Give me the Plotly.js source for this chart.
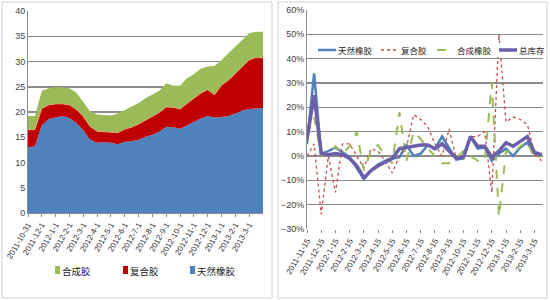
<!DOCTYPE html>
<html>
<head>
<meta charset="utf-8">
<script src="https://cdn.plot.ly/plotly-3.0.1.min.js"></script>
<style>html,body{margin:0;padding:0;background:#fff;overflow:hidden;}#chart{width:550px;height:300px;}</style>
</head>
<body>
<div id="chart"></div>
<script>
// ---- Left chart: stock levels (stacked area) ----
const stockDates = ["2011-10-31","2011-11-15","2011-12-1","2011-12-15","2012-1-1","2012-1-15","2012-2-1","2012-2-15","2012-3-1","2012-3-15","2012-4-1","2012-4-15","2012-5-1","2012-5-15","2012-6-1","2012-6-15","2012-7-1","2012-7-15","2012-8-1","2012-8-15","2012-9-1","2012-9-15","2012-10-1","2012-10-15","2012-11-1","2012-11-15","2012-12-1","2012-12-15","2013-1-1","2013-1-15","2013-2-1","2013-2-15","2013-3-1","2013-3-15","2013-4-1"];
const stockTickLabels = ["2011-10-31","2011-12-1","2012-1-1","2012-2-1","2012-3-1","2012-4-1","2012-5-1","2012-6-1","2012-7-1","2012-8-1","2012-9-1","2012-10-1","2012-11-1","2012-12-1","2013-1-1","2013-2-1","2013-3-1"];
const naturalStock   = [13.0,13.2,17.4,18.6,18.9,19.2,18.8,17.8,16.4,14.5,13.9,14.0,13.9,13.6,14.1,14.2,14.5,15.1,15.5,16.1,17.1,17.0,16.7,17.4,18.1,18.7,19.2,18.9,19.0,19.2,19.7,20.3,20.6,20.7,20.8];
const compoundStock  = [3.5,3.3,3.3,2.8,2.7,2.4,2.6,2.7,2.7,2.6,2.3,2.1,2.0,2.3,2.5,2.8,3.1,3.3,3.6,3.8,3.9,3.9,3.9,4.3,4.6,5.0,5.2,4.5,6.3,7.1,8.0,8.7,9.7,10.1,9.9];
const syntheticStock = [2.7,2.7,3.5,3.3,3.3,3.3,3.3,3.3,2.9,3.0,3.3,3.3,3.4,3.8,3.8,4.1,4.2,4.3,4.3,4.3,4.7,4.3,4.6,5.0,4.8,4.9,4.6,5.7,5.0,5.3,5.3,5.3,5.3,5.1,5.2];
const stockSeriesNames = ['天然橡胶', '复合胶', '合成胶'];

// ---- Right chart: period changes (%) ----
const changeDates = ["2011-11-15","2011-12-1","2011-12-15","2012-1-1","2012-1-15","2012-2-1","2012-2-15","2012-3-1","2012-3-15","2012-4-1","2012-4-15","2012-5-1","2012-5-15","2012-6-1","2012-6-15","2012-7-1","2012-7-15","2012-8-1","2012-8-15","2012-9-1","2012-9-15","2012-10-1","2012-10-15","2012-11-1","2012-11-15","2012-12-1","2012-12-15","2013-1-1","2013-1-15","2013-2-1","2013-2-15","2013-3-1","2013-3-15","2013-4-1"];
const changeTickLabels = ["2011-11-15","2011-12-15","2012-1-15","2012-2-15","2012-3-15","2012-4-15","2012-5-15","2012-6-15","2012-7-15","2012-8-15","2012-9-15","2012-10-15","2012-11-15","2012-12-15","2013-1-15","2013-2-15","2013-3-15"];
const naturalChg   = [5,34,1,2,3.5,1.5,-0.5,-5,-9.5,-6,-3.5,-2,-1,-0.5,4.5,0,1,4.5,3,8,3,-1.5,-1,8,3,3.5,-2,1,3,0,3.5,5.5,1,0.5];
const compoundChg  = [0,5,-24,0,-15,5,5,0,-5,3,2,-2,-7,0,3.5,17,15,12,5,0,11,-1,0,8,8,10,-15,50,14,16,15,13,1,-2];
const syntheticChg = [9,16,0,1,4,1,4,10,-6,2,4.5,0,-3,18,-2,10,7,3,0,-3,-3,-1,2,0,-2,-2,30,-25,2,1,4,6,-1,0];
const totalChg     = [7,25,1,0.5,1,0.5,-1,-4,-9,-6,-4,-2.5,-1,3,3.5,4,4.5,4.5,3,5,2,-1,-0.5,8,4,4,-0.5,2,5.5,4,6,8,1.5,0.5];
const changeSeriesNames = ['天然橡胶', '复合胶', '合成橡胶', '总库存'];

const W = 550, H = 300;
const px = v => v / W, py = v => (H - v) / H;
const gridCol = '#8c8c8c';
const tickFont = {family: 'Liberation Sans, Arial, sans-serif', size: 9, color: '#404040'};
const xFont = {family: 'Liberation Sans, Arial, sans-serif', size: 8, color: '#333333'};
const cjk = 'Noto Sans CJK SC, sans-serif';
const areaColors = ['#4f81bd', '#c00000', '#9bbb59'];
const lineStyles = [
  {width: 2.5, color: '#4f81bd'},
  {width: 1.3, color: '#c0504d', dash: 'dot'},
  {width: 2, color: '#9bbb59', dash: 'dash'},
  {width: 3.5, color: '#6a5fa8'}
];

const stockSeries = [naturalStock, compoundStock, syntheticStock];
const changeSeries = [naturalChg, compoundChg, syntheticChg, totalChg];

const traces = [];
stockSeries.forEach((ys, i) => traces.push({
  x: stockDates, y: ys, name: stockSeriesNames[i], type: 'scatter', mode: 'lines', stackgroup: 'one',
  line: {width: i === 1 ? 0.8 : 0, color: i === 1 ? '#e8a070' : areaColors[i]},
  fillcolor: areaColors[i], xaxis: 'x', yaxis: 'y', showlegend: false
}));
changeSeries.forEach((ys, i) => traces.push({
  x: changeDates, y: ys, name: changeSeriesNames[i], type: 'scatter', mode: 'lines',
  line: lineStyles[i], xaxis: 'x2', yaxis: 'y2', showlegend: false
}));

// manual legends (symbols as shapes, labels as text)
const shapes = [
  {type: 'rect', xref: 'paper', yref: 'paper', x0: px(2), x1: px(272), y0: py(298), y1: py(2), line: {color: '#d0d0d0', width: 1}},
  {type: 'rect', xref: 'paper', yref: 'paper', x0: px(278), x1: px(547), y0: py(298), y1: py(2), line: {color: '#d0d0d0', width: 1}},
  {type: 'rect', xref: 'paper', yref: 'paper', x0: px(313), x1: px(542), y0: py(57), y1: py(43), fillcolor: '#ffffff', line: {width: 0}, layer: 'above'}
];
const annotations = [];
// left legend: reversed order (合成胶, 复合胶, 天然橡胶)
const leftLegendX = [55, 123, 190];
[2, 1, 0].forEach((si, k) => {
  const x0 = leftLegendX[k];
  shapes.push({type: 'rect', xref: 'paper', yref: 'paper', x0: px(x0), x1: px(x0 + 5), y0: py(274), y1: py(266), fillcolor: areaColors[si], line: {width: 0}});
  annotations.push({xref: 'paper', yref: 'paper', x: px(x0 + 5), y: py(270.5), xanchor: 'left', yanchor: 'middle', showarrow: false,
    text: stockSeriesNames[si], font: {family: cjk, size: 9.5, color: '#222'}});
});
// right legend
const rightLegendX = [318, 381, 437, 499];
changeSeries.forEach((ys, i) => {
  const x0 = rightLegendX[i];
  shapes.push({type: 'line', xref: 'paper', yref: 'paper', x0: px(x0), x1: px(x0 + 18), y0: py(50), y1: py(50),
    line: {color: lineStyles[i].color, width: lineStyles[i].width, dash: lineStyles[i].dash || 'solid'}, layer: 'above'});
  annotations.push({xref: 'paper', yref: 'paper', x: px(x0 + 18), y: py(50), xanchor: 'left', yanchor: 'middle', showarrow: false,
    text: changeSeriesNames[i], font: {family: cjk, size: 8.5, color: '#222'}});
});

const layout = {
  width: W, height: H,
  margin: {l: 0, r: 0, t: 0, b: 0, pad: 0},
  paper_bgcolor: '#ffffff', plot_bgcolor: '#ffffff',
  showlegend: false,
  xaxis: {
    domain: [px(28), px(263)], anchor: 'y', type: 'category', automargin: false,
    range: [0, stockDates.length - 1],
    tickmode: 'array', tickvals: stockTickLabels, ticktext: stockTickLabels,
    tickangle: -60, tickfont: xFont, ticks: 'outside', ticklen: 3, tickcolor: gridCol,
    showgrid: false, showline: true, linecolor: gridCol, linewidth: 1, zeroline: false
  },
  yaxis: {
    domain: [py(213), py(11)], anchor: 'x', automargin: false,
    range: [0, 40], dtick: 5, tickfont: tickFont,
    showgrid: true, gridcolor: gridCol, gridwidth: 1.5,
    showline: true, linecolor: gridCol, linewidth: 1, zeroline: false, ticks: ''
  },
  xaxis2: {
    domain: [px(307), px(543)], anchor: 'y2', type: 'category', automargin: false,
    range: [0, changeDates.length - 0.8],
    tickmode: 'array', tickvals: changeTickLabels, ticktext: changeTickLabels,
    tickangle: -60, tickfont: xFont, ticks: 'outside', ticklen: 3, tickcolor: gridCol,
    showgrid: false, showline: false, zeroline: false
  },
  yaxis2: {
    domain: [py(229), py(10)], anchor: 'x2', automargin: false,
    range: [-30, 60], dtick: 10, ticksuffix: '%', tickfont: tickFont,
    showgrid: true, gridcolor: gridCol, gridwidth: 1.5,
    showline: true, linecolor: gridCol, linewidth: 1, zeroline: true, zerolinecolor: gridCol, zerolinewidth: 1.5, ticks: ''
  },
  shapes: shapes,
  annotations: annotations
};

Plotly.newPlot('chart', traces, layout, {staticPlot: true, displayModeBar: false});
</script>
</body>
</html>
